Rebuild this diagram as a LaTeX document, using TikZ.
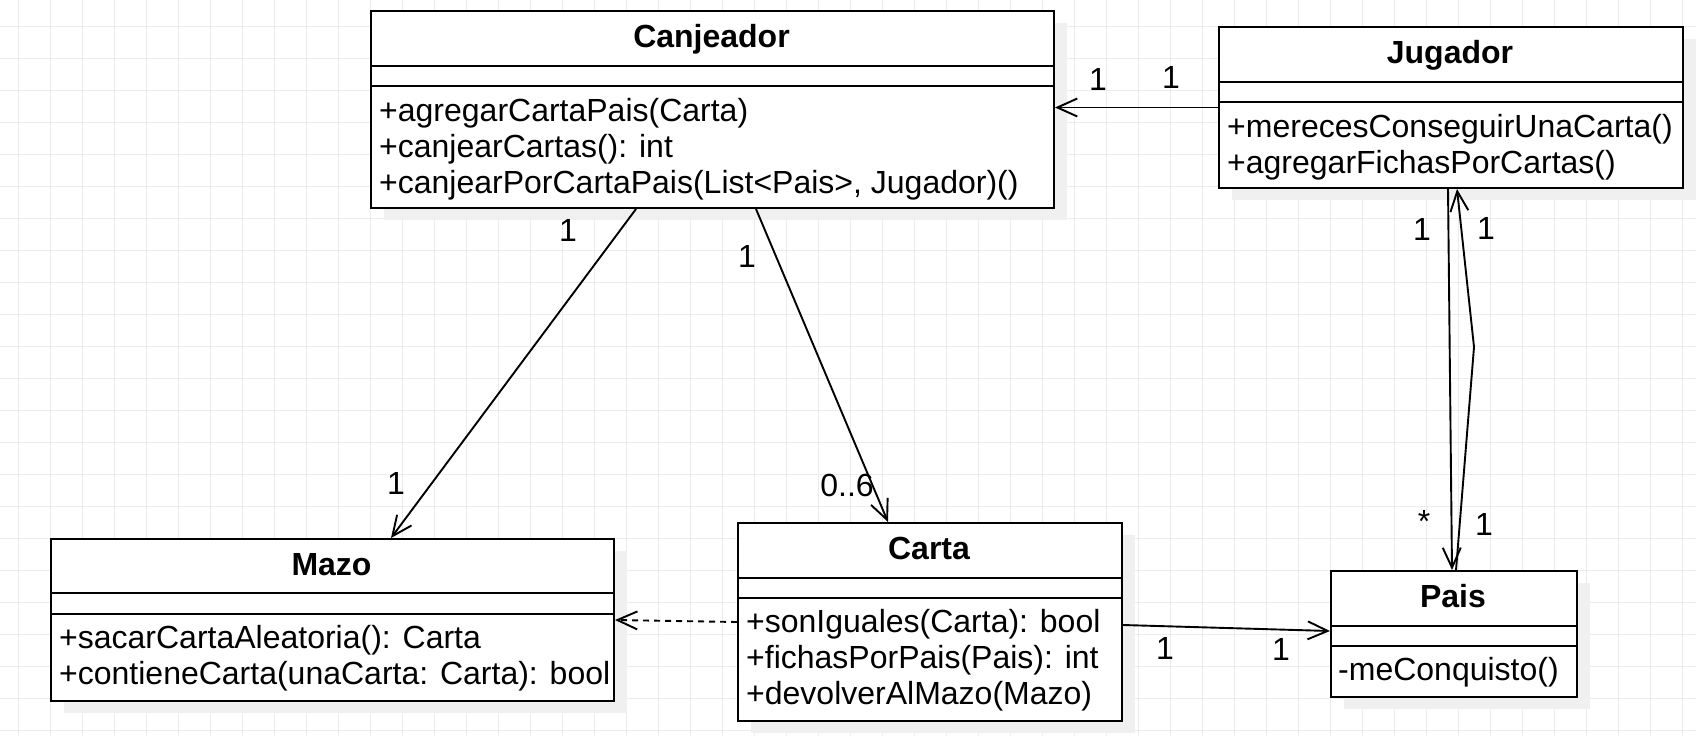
\documentclass[tikz,border=0pt]{standalone}
\usepackage{fontspec}
\setmainfont{Liberation Sans}
\usetikzlibrary{arrows.meta}
\definecolor{gridc}{RGB}{236,236,236}
\definecolor{shadc}{RGB}{240,240,240}
\begin{document}
\begin{tikzpicture}[x=1pt,y=-1pt,
  gridline/.style={draw=gridc, line width=1pt},
  shad/.style={fill=shadc, draw=none},
  box/.style={draw=black, line width=2pt, fill=white, inner sep=0pt, anchor=north west},
  divl/.style={draw=black, line width=2pt},
  ttl/.style={font=\fontsize{32}{36}\selectfont\bfseries, inner sep=0pt, anchor=base},
  mth/.style={font=\fontsize{32}{36}\selectfont, inner sep=0pt, anchor=base west},
  lbl/.style={font=\fontsize{32}{36}\selectfont, inner sep=0pt},
  assoc/.style={line width=1.9pt, -{Straight Barb[length=20pt,width=18pt,line width=1.9pt]}},
  dep/.style={assoc, dash pattern=on 6pt off 5pt},
]
\useasboundingbox (0,0) rectangle (1696,736);
\fill[white] (0,0) rectangle (1696,736);
\foreach \x in {18.3,50.3,...,1696} \draw[gridline] (\x,0) -- (\x,736);
\foreach \y in {26.3,58.3,...,736} \draw[gridline] (0,\y) -- (1696,\y);

% shadows
\fill[shad] (384,23) rectangle (1067,220);
\fill[shad] (1232,39) rectangle (1696,200);
\fill[shad] (64,551) rectangle (627,713);
\fill[shad] (751,535) rectangle (1135,733);
\fill[shad] (1344,583) rectangle (1590,709);

% Canjeador
\node[box, minimum width=683pt, minimum height=197pt] (canj) at (370,10) {};
\draw[divl] (370,66) -- (1053,66) (370,86) -- (1053,86);
\node[ttl] (canjT) at (711.5,47) {Canjeador};
\node[mth] (canjM1) at (379,121) {+agregarCartaPais(Carta)};
\node[mth] (canjM2) at (379,157) {+canjearCartas(): int};
\node[mth] (canjM3) at (379,193) {+canjearPorCartaPais(List<Pais>, Jugador)()};

% Jugador
\node[box, minimum width=464pt, minimum height=161pt] (jug) at (1218,26) {};
\draw[divl] (1218,82) -- (1682,82) (1218,102) -- (1682,102);
\node[ttl] (jugT) at (1450,63) {Jugador};
\node[mth] (jugM1) at (1227,137) {+merecesConseguirUnaCarta()};
\node[mth] (jugM2) at (1227,173) {+agregarFichasPorCartas()};

% Mazo
\node[box, minimum width=563pt, minimum height=162pt] (mazo) at (50,538) {};
\draw[divl] (50,593) -- (613,593) (50,614) -- (613,614);
\node[ttl] (mazoT) at (331.5,575) {Mazo};
\node[mth] (mazoM1) at (59,648) {+sacarCartaAleatoria(): Carta};
\node[mth] (mazoM2) at (59,684) {+contieneCarta(unaCarta: Carta): bool};

% Carta
\node[box, minimum width=384pt, minimum height=198pt] (carta) at (737,522) {};
\draw[divl] (737,578) -- (1121,578) (737,598) -- (1121,598);
\node[ttl] (cartaT) at (929,559) {Carta};
\node[mth] (cartaM1) at (746,632) {+sonIguales(Carta): bool};
\node[mth] (cartaM2) at (746,668) {+fichasPorPais(Pais): int};
\node[mth] (cartaM3) at (746,704) {+devolverAlMazo(Mazo)};

% Pais
\node[box, minimum width=246pt, minimum height=126pt] (pais) at (1330,570) {};
\draw[divl] (1330,626) -- (1576,626) (1330,646) -- (1576,646);
\node[ttl] (paisT) at (1453,607) {Pais};
\node[mth] (paisM1) at (1338,680) {-meConquisto()};

% connectors
\draw[assoc] (jug.west) -- (canj.east |- jug.west);
\draw[assoc] ([xshift=266pt]canj.south west) -- ([xshift=341pt]mazo.north west);
\draw[assoc] ([xshift=386pt]canj.south west) -- ([xshift=151pt]carta.north west);
\draw[dep] (carta.west) -- (mazo.east);
\draw[assoc] ([yshift=-3pt]carta.east) -- ([yshift=3pt]pais.west);
\draw[assoc] ([xshift=230pt]jug.south west) -- ([xshift=122pt]pais.north west);
\coordinate (bend) at (1474,347);
\draw[assoc] ([xshift=126pt]pais.north west) -- (bend) -- ([xshift=239pt]jug.south west);

% multiplicity labels
\node[lbl] (l1) at (1098,79) {1};
\node[lbl] (l2) at (1171,77) {1};
\node[lbl] (l3) at (568,230) {1};
\node[lbl] (l4) at (396,483) {1};
\node[lbl] (l5) at (747,256) {1};
\node[lbl] (l6) at (847,485) {0..6};
\node[lbl] (l7) at (1165,648) {1};
\node[lbl] (l8) at (1281,649) {1};
\node[lbl] (l9) at (1422,229) {1};
\node[lbl] (l10) at (1424,521) {*};
\node[lbl] (l11) at (1486,228) {1};
\node[lbl] (l12) at (1484,524) {1};
\end{tikzpicture}
\end{document}
